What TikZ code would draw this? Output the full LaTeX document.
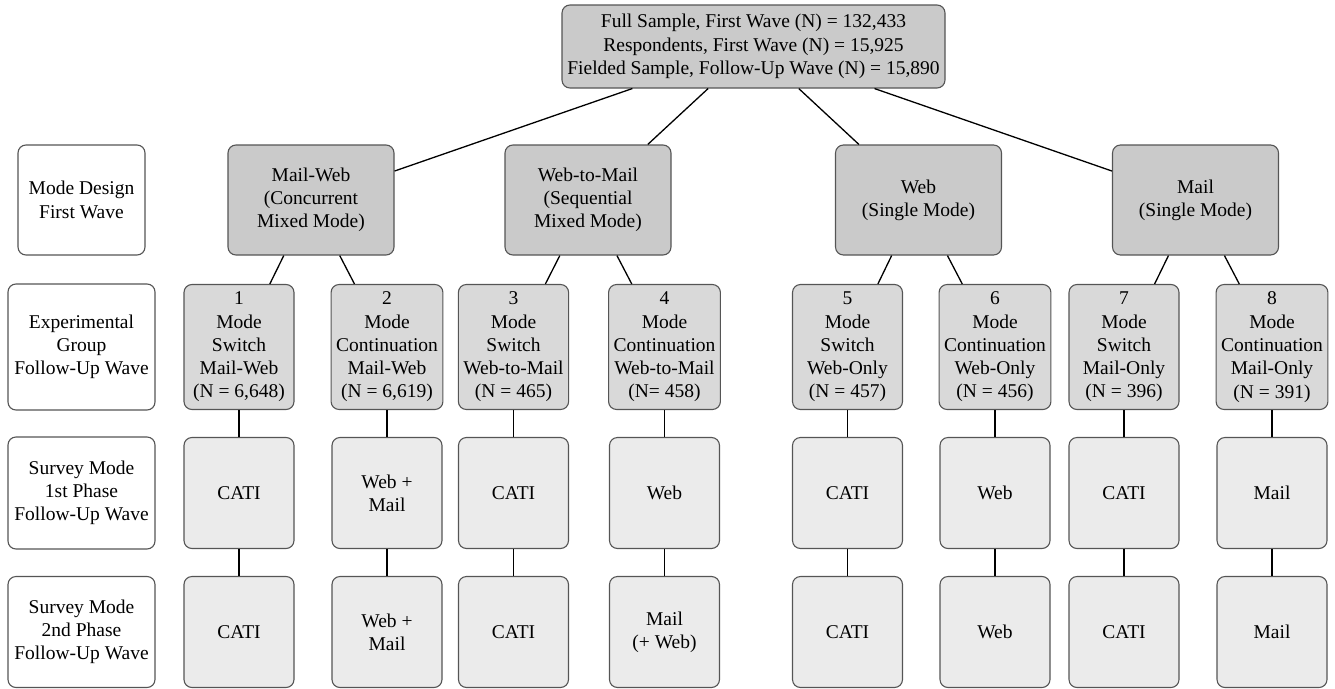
\documentclass[tikz,border=0pt]{standalone}
\usepackage{fontspec}
\newfontfamily\diagfont{Liberation Serif}
\usetikzlibrary{positioning}
\definecolor{boxline}{HTML}{555555}
\definecolor{darkfill}{HTML}{CACACA}
\definecolor{midfill}{HTML}{D9D9D9}
\definecolor{lightfill}{HTML}{EBEBEB}

\begin{document}
\begin{tikzpicture}[x=1pt,y=-1pt,
 box/.style={draw=boxline,line width=1.1pt,rounded corners=8pt,inner xsep=5pt,inner ysep=2pt,
  font=\diagfont\fontsize{19.5}{23.3}\selectfont,align=center},
 rowbox/.style={box,fill=white,minimum width=147pt},
 samplebox/.style={box,fill=darkfill,minimum width=383pt,minimum height=83pt},
 designbox/.style={box,fill=darkfill,minimum width=166pt,minimum height=110pt},
 groupbox/.style={box,fill=midfill,minimum width=110pt,minimum height=125pt},
 modebox/.style={box,fill=lightfill,minimum width=110pt,minimum height=111pt},
 edge/.style={draw=black,line width=1.3pt}]
 \useasboundingbox (0,0) rectangle (1335,688);
 % row labels
 \node[rowbox,minimum width=127pt,minimum height=110pt] (r1) at (81.5,200) {Mode Design\\First Wave};
 \node[rowbox,minimum height=126pt] (r2) at (81.5,347) {Experimental\\Group\\Follow-Up Wave};
 \node[rowbox,minimum height=112pt] (r3) at (81.5,493) {Survey Mode\\1st Phase\\Follow-Up Wave};
 \node[rowbox,minimum height=111pt] (r4) at (81.5,632) {Survey Mode\\2nd Phase\\Follow-Up Wave};
 % sample
 \node[samplebox] (full) at (753.5,46.5) {Full Sample, First Wave (N) = 132,433\\Respondents, First Wave (N) = 15,925\\Fielded Sample, Follow-Up Wave (N) = 15,890};
 % mode design first wave
 \node[designbox] (mw) at (311,200) {Mail-Web\\(Concurrent\\Mixed Mode)};
 \node[designbox] (wm) at (588,200) {Web-to-Mail\\(Sequential\\Mixed Mode)};
 \node[designbox] (web) at (918.5,200) {Web\\(Single Mode)};
 \node[designbox] (mail) at (1195.5,200) {Mail\\(Single Mode)};
 % experimental groups
 \node[groupbox] (g1) at (239,347) {1\\Mode\\Switch\\Mail-Web\\(N = 6,648)};
 \node[groupbox] (g2) at (387,347) {2\\Mode\\Continuation\\Mail-Web\\(N = 6,619)};
 \node[groupbox] (g3) at (513.5,347) {3\\Mode\\Switch\\Web-to-Mail\\(N = 465)};
 \node[groupbox] (g4) at (664.5,347) {4\\Mode\\Continuation\\Web-to-Mail\\(N= 458)};
 \node[groupbox] (g5) at (847.5,347) {5\\Mode\\Switch\\Web-Only\\(N = 457)};
 \node[groupbox] (g6) at (995,347) {6\\Mode\\Continuation\\Web-Only\\(N = 456)};
 \node[groupbox] (g7) at (1124,347) {7\\Mode\\Switch\\Mail-Only\\(N = 396)};
 \node[groupbox] (g8) at (1272,347) {8\\Mode\\Continuation\\Mail-Only\\(N = 391)};
 % first phase
 \node[modebox] (p1) at (239,493) {CATI};
 \node[modebox] (p2) at (387,493) {Web +\\Mail};
 \node[modebox] (p3) at (513.5,493) {CATI};
 \node[modebox] (p4) at (664.5,493) {Web};
 \node[modebox] (p5) at (847.5,493) {CATI};
 \node[modebox] (p6) at (995,493) {Web};
 \node[modebox] (p7) at (1124,493) {CATI};
 \node[modebox] (p8) at (1272,493) {Mail};
 % second phase
 \node[modebox] (q1) at (239,632) {CATI};
 \node[modebox] (q2) at (387,632) {Web +\\Mail};
 \node[modebox] (q3) at (513.5,632) {CATI};
 \node[modebox] (q4) at (664.5,632) {Mail\\(+ Web)};
 \node[modebox] (q5) at (847.5,632) {CATI};
 \node[modebox] (q6) at (995,632) {Web};
 \node[modebox] (q7) at (1124,632) {CATI};
 \node[modebox] (q8) at (1272,632) {Mail};
 % connectors
 \foreach \d in {mw,wm,web,mail}
  \draw[edge] (full) -- (\d);
 \draw[edge] (mw) -- (g1);
 \draw[edge] (mw) -- (g2);
 \draw[edge] (wm) -- (g3);
 \draw[edge] (wm) -- (g4);
 \draw[edge] (web) -- (g5);
 \draw[edge] (web) -- (g6);
 \draw[edge] (mail) -- (g7);
 \draw[edge] (mail) -- (g8);
 \foreach \i in {1,...,8} {
  \draw[edge] (g\i) -- (p\i);
  \draw[edge] (p\i) -- (q\i);
 }
\end{tikzpicture}
\end{document}
